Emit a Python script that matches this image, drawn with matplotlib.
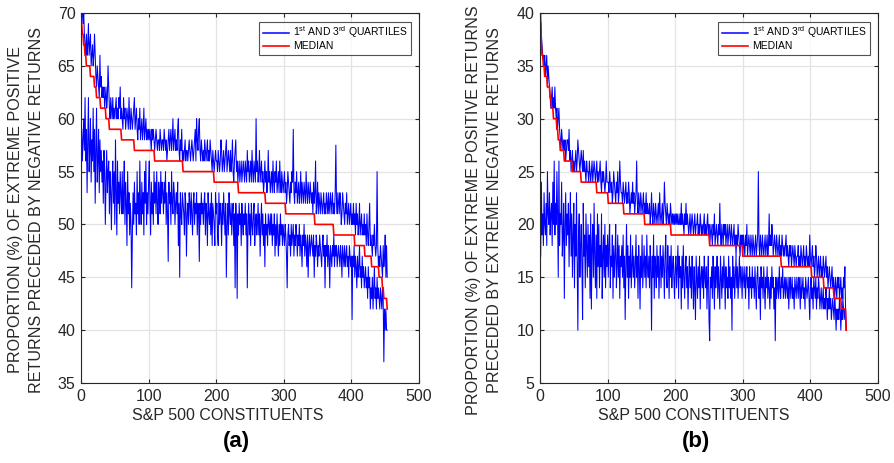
import numpy as np
import matplotlib
matplotlib.use("Agg")
import matplotlib.pyplot as plt

plt.rcParams['font.family'] = ['Liberation Sans', 'DejaVu Sans']
plt.rcParams['mathtext.fontset'] = 'custom'
plt.rcParams['mathtext.rm'] = 'Liberation Sans'

# ---- panel (a): extreme positive preceded by negative returns ----
q3_a = [70, 70, 69, 70, 68, 67, 66, 68, 66, 67, 69, 66, 67, 68, 65, 66, 67, 65, 66, 68,
        66, 64, 63, 65, 64, 63, 62, 66, 63, 64, 62, 63, 62, 63, 61, 62, 63, 61, 62, 65,
        63, 61, 60, 62, 61, 60, 62, 60, 61, 60, 61, 62, 60, 61, 60, 62, 61, 63, 60, 61,
        60, 59, 62, 60, 61, 59, 60, 61, 60, 59, 62, 60, 59, 61, 60, 59, 60, 61, 62, 59,
        60, 61, 59, 58, 60, 59, 61, 58, 59, 60, 58, 59, 61, 58, 59, 60, 58, 59, 58, 59,
        58, 59, 58, 57, 59, 58, 59, 58, 57, 58, 59, 58, 57, 58, 58, 57, 59, 58, 57, 58,
        58, 57, 59, 58, 57, 58, 56, 57, 58, 59, 57, 58, 59, 57, 58, 60, 57, 58, 59, 57,
        58, 57, 59, 60, 57, 56, 58, 57, 59, 56, 57, 56, 57, 58, 56, 57, 57, 56, 57, 58,
        57, 56, 57, 58, 57, 56, 57, 58, 59, 56, 60, 58, 57, 59, 60, 57, 56, 58, 57, 56,
        57, 56, 58, 57, 56, 57, 58, 56, 57, 56, 58, 57, 56, 55, 57, 56, 55, 56, 57, 56,
        56, 55, 57, 56, 55, 56, 58, 57, 55, 56, 57, 55, 56, 57, 58, 55, 56, 57, 56, 55,
        57, 55, 56, 58, 55, 54, 56, 57, 58, 55, 56, 54, 55, 56, 54, 55, 56, 54, 55, 56,
        55, 54, 56, 55, 54, 57, 55, 56, 54, 55, 56, 54, 57, 55, 54, 56, 55, 54, 60, 55,
        56, 54, 55, 57, 54, 55, 56, 54, 55, 53, 54, 56, 54, 55, 53, 54, 57, 54, 55, 53,
        54, 55, 53, 56, 54, 53, 55, 54, 56, 53, 54, 55, 53, 56, 54, 53, 55, 54, 53, 54,
        55, 53, 54, 52, 53, 55, 54, 53, 52, 54, 53, 55, 54, 59, 53, 52, 54, 53, 55, 52,
        53, 54, 52, 53, 55, 52, 54, 53, 52, 54, 53, 52, 55, 53, 52, 54, 53, 52, 54, 53,
        52, 53, 51, 54, 52, 53, 56, 51, 52, 54, 51, 53, 52, 51, 53, 52, 51, 52, 53, 51,
        52, 51, 53, 52, 51, 53, 51, 52, 53, 51, 52, 53, 51, 52, 51, 53, 57.5, 52, 51, 53,
        52, 51, 53, 52, 50, 51, 53, 52, 51, 50, 52, 51, 53, 50, 51, 52, 50, 51, 52, 50,
        51, 50, 52, 50, 51, 49, 52, 50, 51, 49, 50, 52, 49, 50, 51, 49, 50, 49, 51, 49,
        50, 48, 51, 49, 48, 50, 52, 48, 49, 48, 47, 49, 48, 50, 48, 47, 48, 55, 48, 46,
        47, 46, 48, 47, 46, 45, 48, 46, 47, 49, 45, 48, 45]

q1_a = [59, 56, 58, 60, 57, 62, 56, 59, 53, 58, 62, 55, 57, 60, 54, 58, 56, 61, 55, 59,
        52, 57, 61, 54, 56, 59, 53, 58, 55, 57, 54, 56, 52, 57, 55, 50, 54, 57, 53, 55,
        56, 51, 55, 53, 49.5, 54, 56, 52, 55, 50, 58, 53, 49, 56, 52, 54, 51, 55, 53, 51,
        55, 51, 53, 56, 50, 54, 52, 48, 55, 51, 53, 49, 52, 50, 44, 49, 53, 50, 54, 51,
        52, 49, 55, 51, 53, 50, 56, 52, 50, 54, 51, 53, 49, 55, 52, 56, 50, 53, 51, 54,
        56, 52, 49, 54, 51, 53, 50, 55, 52, 54, 51, 55, 52, 50, 54, 53, 51, 55, 52, 54,
        53, 51, 54, 52, 55, 50, 53, 51, 46.5, 54, 52, 53, 50, 55, 52, 51, 54, 53, 50, 52,
        53, 51, 54, 48, 52, 45, 53, 51, 50, 53, 52, 51, 49, 53, 52, 47, 51, 52, 50, 53,
        52, 50, 53, 51, 49, 52, 53, 50, 52, 51, 53, 49, 52, 51, 46.5, 52, 50, 53, 51, 52,
        50, 52, 53, 49, 52, 51, 48, 53, 51, 50, 52, 49, 53, 48, 52, 51, 50, 48, 53, 51,
        52, 49, 48, 53, 50, 52, 51, 48, 52, 50, 53, 51, 49, 52, 45, 50, 52, 49, 53, 51,
        50, 52, 49, 51, 52, 48, 51, 44, 52, 50, 43, 51, 49, 52, 50, 51, 48, 52, 50, 49,
        51, 50, 52, 49, 51, 44, 50, 52, 49, 51, 48, 52, 50, 49, 51, 52, 48, 50, 51, 49,
        50, 52, 49, 51, 47, 50, 52, 49, 51, 48, 50, 46, 51, 49, 50, 48, 51, 50, 49, 51,
        49, 51, 48, 50, 49, 51, 47, 50, 48, 51, 49, 47, 50, 48, 51, 49, 50, 48, 50, 49,
        48, 50, 49, 47, 44, 49, 50, 48, 49, 47, 50, 48, 49, 50, 47, 49, 48, 50, 49, 47,
        49, 48, 50, 47, 49, 48, 46, 49, 48, 50, 47, 49, 48, 46, 49, 45, 48, 49, 47, 48,
        49, 48, 47, 49, 45, 48, 47, 49, 48, 46, 48, 47, 49, 48, 47, 46, 48, 49, 47, 48,
        44, 48, 47, 49, 46, 48, 47, 44, 48, 47, 46, 48, 47, 49, 46, 48, 47, 48, 46, 47,
        48, 47, 46, 48, 47, 45, 48, 47, 46, 48, 46, 47, 48, 46, 47, 45, 48, 47, 46, 47,
        41, 47, 46, 48, 45, 47, 46, 44, 47, 45, 46, 48, 45, 46, 44, 47, 45, 46, 44, 45,
        46, 44, 45, 43, 46, 44, 45, 42, 44, 43, 45, 42, 44, 46, 43, 44, 42, 45, 43, 44,
        43, 42, 44, 43, 42, 44, 43, 37, 42, 40, 42, 40, 40]

med_a_levels = [69, 68, 67, 66, 65, 64, 63, 62, 61, 60, 59, 58, 57, 56, 55, 54, 53,
                52, 51, 50, 49, 48, 47, 46, 45, 44, 43, 42]
med_a_counts = [1, 2, 2, 2, 6, 6, 3, 6, 8, 5, 18, 19, 30, 42, 46, 36, 40,
                30, 43, 28, 31, 15, 10, 11, 5, 2, 5, 1]

# ---- panel (b): extreme positive preceded by extreme negative returns ----
q3_b = [40, 38, 37, 36, 36, 35, 36, 34, 35, 36, 33, 35, 34, 33, 32, 31, 32, 33, 31, 32,
        31, 33, 31, 30, 31, 29, 30, 31, 29, 28, 27, 29, 28, 27, 28, 27, 28, 26, 27, 28,
        28, 27, 29, 26, 27, 25, 26, 27, 25, 26, 25, 26, 27, 25, 26, 28, 27, 26, 25, 26,
        27, 26, 25, 27, 25, 26, 25, 24, 26, 25, 25, 24, 26, 25, 24, 25, 26, 24, 25, 26,
        25, 24, 25, 26, 24, 25, 24, 25, 26, 24, 23, 25, 24, 25, 24, 23, 24, 26, 24, 24,
        24, 23, 25, 24, 23, 24, 22, 23, 25, 24, 23, 22, 24, 23, 25, 22, 23, 26, 24, 23,
        23, 22, 24, 23, 22, 23, 24, 22, 23, 22, 24, 23, 21, 22, 23, 22, 24, 22, 23, 21,
        22, 23, 26, 22, 21, 23, 22, 21, 23, 22, 21, 22, 23, 21, 22, 21, 23, 21, 22, 21,
        21, 22, 20, 21, 23, 21, 20, 22, 21, 20, 22, 21, 20, 21, 22, 20, 23, 21, 20, 21,
        22, 20, 21, 24, 22, 21, 20, 22, 21, 20, 21, 20, 22, 21, 20, 21, 20, 21, 20, 21,
        20, 21, 20, 21, 20, 20, 21, 20, 22, 20, 21, 20, 19, 21, 20, 22, 20, 21, 20, 19,
        20, 21, 19, 20, 21, 20, 19, 20, 21, 19, 20, 20, 21, 19, 20, 19, 21, 20, 19, 20,
        19, 20, 21, 19, 20, 19, 20, 21, 19, 20, 18, 19, 20, 19, 18, 20, 19, 21, 18, 19,
        20, 19, 18, 20, 19, 22, 19, 18, 20, 19, 18, 20, 19, 20, 18, 19, 20, 18, 19, 20,
        19, 18, 20, 19, 18, 19, 20, 18, 19, 17, 19, 18, 20, 19, 18, 17, 19, 18, 19, 17,
        19, 18, 17, 19, 18, 20, 17, 18, 19, 18, 17, 19, 18, 17, 19, 18, 17, 18, 19, 17,
        18, 19, 25, 18, 17, 19, 18, 17, 19, 18, 17, 18, 19, 17, 18, 19, 17, 18, 21, 18,
        19, 18, 20, 19, 17, 18, 19, 18, 17, 19, 18, 17, 18, 19, 17, 18, 17, 19, 18, 17,
        18, 17, 18, 19, 17, 18, 17, 16, 18, 17, 18, 16, 17, 18, 17, 16, 18, 17, 16, 17,
        17, 18, 16, 17, 16, 18, 17, 16, 17, 18, 16, 17, 16, 18, 17, 16, 17, 16, 19, 17,
        16, 17, 18, 16, 17, 15, 16, 18, 17, 15, 16, 17, 15, 16, 17, 15, 16, 15, 17, 16,
        15, 16, 17, 15, 16, 14, 15, 16, 15, 14, 15, 16, 14, 15, 14, 13, 15, 14, 13, 15,
        14, 15, 13, 14, 15, 13, 14, 13, 15, 14, 16, 12, 10]

q1_b = [17, 24, 19, 21, 18, 23, 20, 19, 22, 18, 25, 21, 20, 23, 19, 21, 22, 18, 24, 20,
        26, 19, 22, 20, 25, 21, 15, 26, 18, 21, 20, 24, 17, 19, 22, 13, 20, 23, 18, 21,
        19, 22, 16, 20, 23, 17, 21, 15, 19, 22, 14, 20, 17, 23, 16, 10, 19, 21, 15, 18,
        20, 16, 11, 22, 17, 19, 14, 21, 18, 15, 20, 16, 19, 13, 21, 12, 18, 20, 15, 22,
        17, 14, 19, 13, 21, 16, 20, 14, 18, 16, 21, 13, 17, 19, 15, 20, 14, 18, 16, 19,
        15, 18, 20, 14, 17, 16, 19, 13, 18, 15, 17, 20, 14, 16, 19, 15, 18, 13, 17, 16,
        18, 15, 19, 14, 17, 11, 16, 20, 15, 18, 13, 17, 15, 19, 14, 16, 18, 15, 17, 14,
        16, 19, 15, 17, 13, 18, 16, 12, 17, 15, 19, 14, 16, 18, 15, 17, 14, 19, 16, 15,
        17, 14, 18, 16, 10, 17, 15, 19, 13, 17, 16, 14, 18, 15, 17, 13, 16, 18, 14, 17,
        15, 18, 16, 13, 17, 19, 15, 14, 18, 16, 13, 17, 15, 18, 14, 16, 17, 15, 13, 16,
        17, 14, 16, 18, 13, 17, 15, 16, 12, 17, 14, 18, 15, 13, 16, 17, 14, 16, 12, 15,
        17, 14, 16, 13, 17, 15, 12, 16, 14, 11, 17, 15, 13, 16, 14, 17, 12, 15, 16, 14,
        16, 13, 17, 15, 14, 16, 12, 15, 17, 11, 9, 15, 14, 16, 13, 17, 15, 12, 16, 14,
        15, 17, 13, 16, 14, 12, 17, 15, 13, 16, 14, 17, 15, 12, 16, 14, 15, 13, 17, 14,
        16, 13, 15, 10, 17, 14, 16, 13, 15, 17, 14, 16, 13, 15, 17, 14, 16, 15, 13, 16,
        15, 14, 16, 13, 15, 16, 14, 15, 12, 16, 14, 15, 13, 16, 14, 15, 13, 16, 14, 12,
        15, 16, 14, 13, 15, 11, 16, 14, 15, 13, 16, 14, 12, 15, 14, 16, 13, 15, 14, 12,
        15, 13, 16, 14, 15, 12, 14, 9, 15, 13, 14, 15, 13, 16, 14, 13, 15, 14, 16, 13,
        14, 15, 13, 15, 14, 13, 15, 12, 14, 15, 13, 14, 15, 13, 14, 12, 15, 14, 13, 15,
        14, 13, 15, 14, 12, 15, 13, 14, 15, 13, 14, 12, 15, 14, 13, 14, 15, 13, 11, 14,
        15, 13, 14, 12, 15, 14, 13, 15, 12, 14, 13, 15, 14, 12, 13, 14, 12, 13, 14, 12,
        13, 12, 14, 13, 11, 13, 12, 14, 12, 13, 11, 12, 13, 12, 11, 13, 12, 10, 12, 11,
        12, 11, 13, 12, 10, 12, 11, 13, 12, 11, 12, 11, 10]

med_b_levels = [39, 37, 36, 35, 34, 33, 32, 31, 30, 29, 28, 27, 26, 25, 24, 23, 22,
                21, 20, 19, 18, 17, 16, 15, 14, 13, 12, 10]
med_b_counts = [1, 1, 2, 2, 4, 4, 2, 3, 5, 2, 3, 6, 12, 13, 23, 17, 23,
                31, 39, 57, 49, 57, 45, 18, 15, 11, 7, 1]

panels = [
    dict(q3=q3_a, q1=q1_a, lev=med_a_levels, cnt=med_a_counts, ylim=(35, 70),
         yticks=np.arange(35, 71, 5),
         ylabel='PROPORTION (%) OF EXTREME POSITIVE\nRETURNS PRECEDED BY NEGATIVE RETURNS',
         tag='(a)', left=81, ylab_x=26, ylab_y=210, xlab_x=228, tag_x=236),
    dict(q3=q3_b, q1=q1_b, lev=med_b_levels, cnt=med_b_counts, ylim=(5, 40),
         yticks=np.arange(5, 41, 5),
         ylabel='PROPORTION (%) OF EXTREME POSITIVE RETURNS\nPRECEDED BY EXTREME NEGATIVE RETURNS',
         tag='(b)', left=540, ylab_x=484, ylab_y=210, xlab_x=694, tag_x=696),
]

W, H = 894, 463
fig = plt.figure(figsize=(W / 100, H / 100), dpi=100)

for p in panels:
    ax = fig.add_axes([p['left'] / W, (H - 383) / H, 338 / W, 370 / H])
    med = np.repeat(p['lev'], p['cnt'])
    xq3 = np.arange(1, len(p['q3']) + 1)
    xq1 = np.arange(1, len(p['q1']) + 1)
    xm = np.arange(1, len(med) + 1)
    ax.plot(xq3, p['q3'], color='#0000ff', lw=0.75, label=r'1$^{\rm st}$ AND 3$^{\rm rd}$ QUARTILES')
    ax.plot(xq1, p['q1'], color='#0000ff', lw=0.75)
    ax.plot(xm, med, color='#ff0000', lw=1.2, label='MEDIAN')
    ax.set_xlim(0, 500)
    ax.set_ylim(*p['ylim'])
    ax.set_xticks(np.arange(0, 501, 100))
    ax.set_yticks(p['yticks'])
    ax.grid(True, color='#e3e3e3', lw=0.9)
    ax.set_axisbelow(True)
    ax.tick_params(direction='in', top=True, right=True, labelsize=11.5, length=3,
                   color='#262626', labelcolor='#262626', pad=4)
    for s in ax.spines.values():
        s.set_color('#262626')
        s.set_linewidth(0.8)
    leg = ax.legend(loc='upper right', fontsize=7.5, frameon=True, fancybox=False,
                    edgecolor='#262626', handlelength=2.5, handletextpad=0.4,
                    borderpad=0.3, labelspacing=0.1, borderaxespad=0,
                    bbox_to_anchor=(0.977, 0.977))
    leg.get_frame().set_linewidth(0.8)
    leg.get_lines()[0].set_linewidth(1.1)
    fig.text(p['xlab_x'] / W, 1 - 415 / H, 'S&P 500 CONSTITUENTS', ha='center',
             va='center', fontsize=11.5, color='#262626')
    fig.text(p['ylab_x'] / W, 1 - p['ylab_y'] / H, p['ylabel'], ha='center', va='center',
             rotation=90, fontsize=11.6, color='#262626', linespacing=1.5,
             multialignment='center')
    fig.text(p['tag_x'] / W, 1 - 442 / H, p['tag'], ha='center', va='center',
             fontsize=16, fontweight='bold')

fig.savefig('out.png', dpi=100)
